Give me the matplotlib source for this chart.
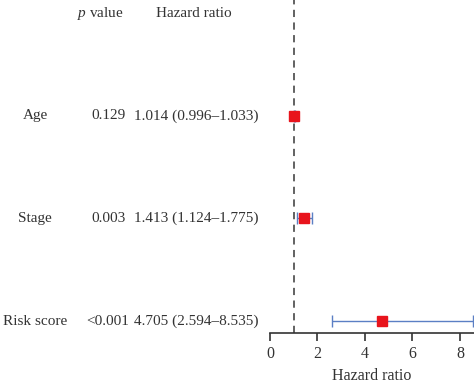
import matplotlib
matplotlib.use("Agg")
import matplotlib.pyplot as plt
import matplotlib.transforms as mtransforms

plt.rcParams["font.family"] = ["Liberation Serif", "DejaVu Serif"]
plt.rcParams["mathtext.fontset"] = "custom"
plt.rcParams["mathtext.it"] = "Liberation Serif:italic"
plt.rcParams["mathtext.rm"] = "Liberation Serif"

variables = ["Age", "Stage", "Risk score"]
p_values = ["0.129", "0.003", "<0.001"]
hr = [1.014, 1.413, 4.705]
hr_low = [0.996, 1.124, 2.594]
hr_high = [1.033, 1.775, 8.535]
hr_text = ["1.014 (0.996\u20131.033)", "1.413 (1.124\u20131.775)",
           "4.705 (2.594\u20138.535)"]
ticks = [0, 2, 4, 6, 8]

rows = [3, 2, 1]
INK = "#333333"
BLUE = "#5b7fc4"
RED = "#e8141c"

fig = plt.figure(figsize=(4.74, 3.87), dpi=100)
ax = fig.add_axes([0.5696, 0.1395, 0.4304, 0.8605])

ax.axvline(1, color="#555555", lw=1.3, ls=(0, (4, 3)), zorder=1)
for y, m, lo, hi in zip(rows, hr, hr_low, hr_high):
    ax.errorbar(m, y, xerr=[[m - lo], [hi - m]], fmt="none", ecolor=BLUE,
                elinewidth=1.0, capsize=4, capthick=1.0, zorder=2)
    ax.plot(m, y, marker="s", ms=6.5, color=RED, mec=RED, zorder=3,
            clip_on=False)

ax.set_xlim(0, 8.59)
ax.set_ylim(0.883, 4.13)
ax.set_xticks(ticks)
ax.tick_params(axis="x", direction="out", length=6, width=1.2, color=INK,
               labelsize=11.5, labelcolor=INK, pad=3)
ax.set_yticks([])
for s in ["top", "right", "left"]:
    ax.spines[s].set_visible(False)
ax.spines["bottom"].set_color(INK)
ax.spines["bottom"].set_linewidth(1.2)
ax.set_xlabel("Hazard ratio", fontsize=11.5, color=INK, labelpad=5)

tr = mtransforms.blended_transform_factory(fig.transFigure, ax.transData)
fs = 11
for y, name, p, h in zip(rows, variables, p_values, hr_text):
    ax.text(35 / 474, y, name, transform=tr, ha="center", va="center",
            fontsize=fs, color=INK, clip_on=False)
    ax.text(108 / 474, y, p, transform=tr, ha="center", va="center",
            fontsize=fs, color=INK, clip_on=False)
    ax.text(196 / 474, y, h, transform=tr, ha="center", va="center",
            fontsize=fs, color=INK, clip_on=False)

ax.text(100 / 474, 3.995, "$p$ value", transform=tr, ha="center", va="center",
        fontsize=fs, color=INK, clip_on=False)
ax.text(194 / 474, 3.995, "Hazard ratio", transform=tr, ha="center",
        va="center", fontsize=fs, color=INK, clip_on=False)

fig.savefig("out.png", dpi=100, facecolor="white")
